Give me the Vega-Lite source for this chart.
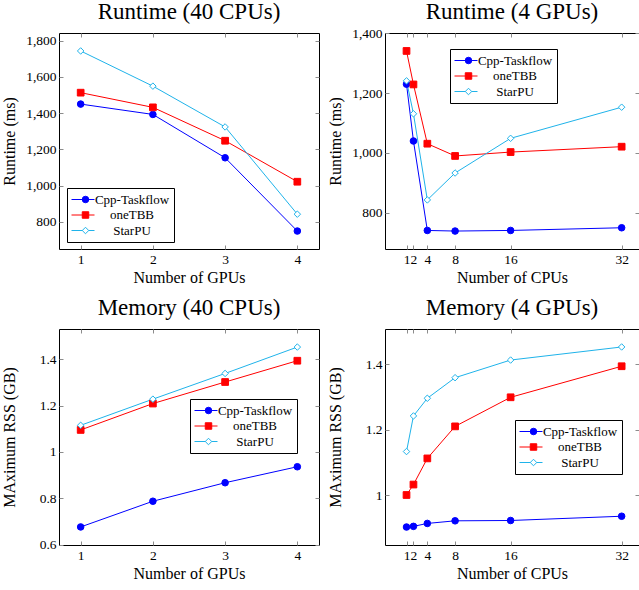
{
  "$schema": "https://vega.github.io/schema/vega-lite/v6.json",
  "padding": {"left": 0, "top": 0, "right": 0, "bottom": 0},
  "spacing": 10,
  "resolve": {"scale": {"color": "independent", "stroke": "independent", "fill": "independent", "shape": "independent", "size": "independent"}, "legend": {"color": "independent", "stroke": "independent", "fill": "independent", "shape": "independent", "size": "independent"}},
  "config": {
    "view": {"stroke": "black", "strokeWidth": 1},
    "font": "Liberation Serif",
    "axis": {"domain": false, "grid": false, "tickSize": -4, "tickColor": "#8c8c8c", "tickWidth": 1, "labelFont": "Liberation Serif", "labelFontSize": 13.5, "labelColor": "black", "labelPadding": 7, "labelOverlap": false, "labelBound": false, "labelFlush": false, "titleFont": "Liberation Serif", "titleFontSize": 16, "titleFontWeight": "normal", "titleColor": "black", "titlePadding": 4, "minExtent": 0},
    "title": {"font": "Liberation Serif", "fontSize": 23, "fontWeight": "normal", "color": "black", "anchor": "middle", "frame": "group", "offset": 9},
    "legend": {"labelFont": "Liberation Serif", "labelFontSize": 13, "labelFontWeight": "normal", "labelColor": "black", "padding": 4, "strokeColor": "black", "fillColor": "transparent", "symbolStrokeWidth": 1, "labelAlign": "center", "rowPadding": 0.5, "cornerRadius": 0, "labelLimit": 0, "clipHeight": 15}
  },
  "datasets": {
    "rt40": [
      {"x": 1, "y": 1450, "series": "Cpp-Taskflow"}, {"x": 2, "y": 1393, "series": "Cpp-Taskflow"}, {"x": 3, "y": 1154, "series": "Cpp-Taskflow"}, {"x": 4, "y": 750, "series": "Cpp-Taskflow"},
      {"x": 1, "y": 1513, "series": "oneTBB"}, {"x": 2, "y": 1432, "series": "oneTBB"}, {"x": 3, "y": 1248, "series": "oneTBB"}, {"x": 4, "y": 1022, "series": "oneTBB"},
      {"x": 1, "y": 1743, "series": "StarPU"}, {"x": 2, "y": 1549, "series": "StarPU"}, {"x": 3, "y": 1324, "series": "StarPU"}, {"x": 4, "y": 843, "series": "StarPU"}
    ],
    "rt4": [
      {"x": 1, "y": 1230, "series": "Cpp-Taskflow"}, {"x": 2, "y": 1040, "series": "Cpp-Taskflow"}, {"x": 4, "y": 741, "series": "Cpp-Taskflow"}, {"x": 8, "y": 739, "series": "Cpp-Taskflow"}, {"x": 16, "y": 741, "series": "Cpp-Taskflow"}, {"x": 32, "y": 750, "series": "Cpp-Taskflow"},
      {"x": 1, "y": 1341, "series": "oneTBB"}, {"x": 2, "y": 1229, "series": "oneTBB"}, {"x": 4, "y": 1031, "series": "oneTBB"}, {"x": 8, "y": 990, "series": "oneTBB"}, {"x": 16, "y": 1003, "series": "oneTBB"}, {"x": 32, "y": 1021, "series": "oneTBB"},
      {"x": 1, "y": 1241, "series": "StarPU"}, {"x": 2, "y": 1131, "series": "StarPU"}, {"x": 4, "y": 843, "series": "StarPU"}, {"x": 8, "y": 933, "series": "StarPU"}, {"x": 16, "y": 1049, "series": "StarPU"}, {"x": 32, "y": 1153, "series": "StarPU"}
    ],
    "mem40": [
      {"x": 1, "y": 0.676, "series": "Cpp-Taskflow"}, {"x": 2, "y": 0.787, "series": "Cpp-Taskflow"}, {"x": 3, "y": 0.867, "series": "Cpp-Taskflow"}, {"x": 4, "y": 0.936, "series": "Cpp-Taskflow"},
      {"x": 1, "y": 1.095, "series": "oneTBB"}, {"x": 2, "y": 1.209, "series": "oneTBB"}, {"x": 3, "y": 1.302, "series": "oneTBB"}, {"x": 4, "y": 1.394, "series": "oneTBB"},
      {"x": 1, "y": 1.115, "series": "StarPU"}, {"x": 2, "y": 1.228, "series": "StarPU"}, {"x": 3, "y": 1.339, "series": "StarPU"}, {"x": 4, "y": 1.453, "series": "StarPU"}
    ],
    "mem4": [
      {"x": 1, "y": 0.902, "series": "Cpp-Taskflow"}, {"x": 2, "y": 0.904, "series": "Cpp-Taskflow"}, {"x": 4, "y": 0.913, "series": "Cpp-Taskflow"}, {"x": 8, "y": 0.921, "series": "Cpp-Taskflow"}, {"x": 16, "y": 0.922, "series": "Cpp-Taskflow"}, {"x": 32, "y": 0.935, "series": "Cpp-Taskflow"},
      {"x": 1, "y": 1.0, "series": "oneTBB"}, {"x": 2, "y": 1.032, "series": "oneTBB"}, {"x": 4, "y": 1.112, "series": "oneTBB"}, {"x": 8, "y": 1.21, "series": "oneTBB"}, {"x": 16, "y": 1.299, "series": "oneTBB"}, {"x": 32, "y": 1.394, "series": "oneTBB"},
      {"x": 1, "y": 1.133, "series": "StarPU"}, {"x": 2, "y": 1.242, "series": "StarPU"}, {"x": 4, "y": 1.296, "series": "StarPU"}, {"x": 8, "y": 1.359, "series": "StarPU"}, {"x": 16, "y": 1.413, "series": "StarPU"}, {"x": 32, "y": 1.453, "series": "StarPU"}
    ]
  },
  "vconcat": [
    {
      "spacing": 6,
      "resolve": {"scale": {"color": "independent", "stroke": "independent", "fill": "independent", "shape": "independent", "size": "independent"}, "legend": {"color": "independent", "stroke": "independent", "fill": "independent", "shape": "independent", "size": "independent"}},
      "hconcat": [
        {
          "width": 260, "height": 216,
          "title": "Runtime (40 CPUs)",
          "data": {"name": "rt40"},
          "layer": [
            {"mark": {"type": "line", "strokeWidth": 1},
             "encoding": {
               "x": {"field": "x", "type": "quantitative", "scale": {"domain": [0.7, 4.3], "nice": false, "zero": false}, "axis": {"values": [1, 2, 3, 4], "title": "Number of GPUs", "orient": "bottom"}},
               "y": {"field": "y", "type": "quantitative", "scale": {"domain": [651, 1842], "nice": false, "zero": false}, "axis": {"values": [800, 1000, 1200, 1400, 1600, 1800], "format": ",d", "title": "Runtime (ms)", "orient": "left", "minExtent": 36, "maxExtent": 36, "titlePadding": 6}},
               "color": {"field": "series", "type": "nominal", "scale": {"domain": ["Cpp-Taskflow", "oneTBB", "StarPU", "zz"], "range": ["#0000ff", "#ff0000", "#1fb3ea", "#000000"]},
                 "legend": {"orient": "none", "legendX": 8, "legendY": 155, "title": null, "values": ["Cpp-Taskflow", "oneTBB", "StarPU"], "symbolType": "stroke", "symbolSize": 529, "symbolOffset": 0, "labelOffset": 37}}
             }},
            {"mark": {"type": "point", "opacity": 1, "strokeWidth": 1},
             "encoding": {
               "x": {"field": "x", "type": "quantitative", "axis": {"values": [1, 2, 3, 4], "title": null, "labels": false, "orient": "top"}},
               "y": {"field": "y", "type": "quantitative", "axis": {"values": [800, 1000, 1200, 1400, 1600, 1800], "title": null, "labels": false, "orient": "right"}},
               "shape": {"field": "series", "type": "nominal", "scale": {"domain": ["Cpp-Taskflow", "oneTBB", "StarPU"], "range": ["circle", "square", "diamond"]}},
               "size": {"field": "series", "type": "nominal", "scale": {"domain": ["oneTBB", "Cpp-Taskflow", "StarPU"], "range": [45, 42, 28]}, "legend": null},
               "stroke": {"field": "series", "type": "nominal", "scale": {"domain": ["Cpp-Taskflow", "oneTBB", "StarPU"], "range": ["#0000ff", "#ff0000", "#1fb3ea"]}},
               "fill": {"field": "series", "type": "nominal", "scale": {"domain": ["Cpp-Taskflow", "oneTBB", "StarPU"], "range": ["#0000ff", "#ff0000", "#ffffff"]},
                 "legend": {"orient": "none", "legendX": 8, "legendY": 155, "title": null, "symbolSize": 42, "symbolOffset": 8, "labelOpacity": 0, "labelColor": "transparent", "strokeColor": "transparent", "fillColor": "transparent"}}
             }}
          ],
          "resolve": {"axis": {"x": "independent", "y": "independent"}}
        },
        {
          "width": 254, "height": 216,
          "title": {"text": "Runtime (4 GPUs)", "offset": 2.5},
          "data": {"name": "rt4"},
          "layer": [
            {"mark": {"type": "line", "strokeWidth": 1},
             "encoding": {
               "x": {"field": "x", "type": "quantitative", "scale": {"domain": [-2.1, 34.5], "nice": false, "zero": false}, "axis": {"values": [1, 2, 4, 8, 16, 32], "title": "Number of CPUs", "orient": "bottom"}},
               "y": {"field": "y", "type": "quantitative", "scale": {"domain": [679, 1401], "nice": false, "zero": false}, "axis": {"values": [800, 1000, 1200, 1400], "format": ",d", "title": "Runtime (ms)", "orient": "left", "minExtent": 36, "maxExtent": 36, "titlePadding": 6}},
               "color": {"field": "series", "type": "nominal", "scale": {"domain": ["Cpp-Taskflow", "oneTBB", "StarPU", "zz"], "range": ["#0000ff", "#ff0000", "#1fb3ea", "#000000"]},
                 "legend": {"orient": "none", "legendX": 65, "legendY": 16, "title": null, "values": ["Cpp-Taskflow", "oneTBB", "StarPU"], "symbolType": "stroke", "symbolSize": 529, "symbolOffset": 0, "labelOffset": 37}}
             }},
            {"mark": {"type": "point", "opacity": 1, "strokeWidth": 1},
             "encoding": {
               "x": {"field": "x", "type": "quantitative", "axis": {"values": [1, 2, 4, 8, 16, 32], "title": null, "labels": false, "orient": "top"}},
               "y": {"field": "y", "type": "quantitative", "axis": {"values": [800, 1000, 1200, 1400], "title": null, "labels": false, "orient": "right"}},
               "shape": {"field": "series", "type": "nominal", "scale": {"domain": ["Cpp-Taskflow", "oneTBB", "StarPU"], "range": ["circle", "square", "diamond"]}},
               "size": {"field": "series", "type": "nominal", "scale": {"domain": ["oneTBB", "Cpp-Taskflow", "StarPU"], "range": [45, 42, 28]}, "legend": null},
               "stroke": {"field": "series", "type": "nominal", "scale": {"domain": ["Cpp-Taskflow", "oneTBB", "StarPU"], "range": ["#0000ff", "#ff0000", "#1fb3ea"]}},
               "fill": {"field": "series", "type": "nominal", "scale": {"domain": ["Cpp-Taskflow", "oneTBB", "StarPU"], "range": ["#0000ff", "#ff0000", "#ffffff"]},
                 "legend": {"orient": "none", "legendX": 65, "legendY": 16, "title": null, "symbolSize": 42, "symbolOffset": 8, "labelOpacity": 0, "labelColor": "transparent", "strokeColor": "transparent", "fillColor": "transparent"}}
             }}
          ],
          "resolve": {"axis": {"x": "independent", "y": "independent"}}
        }
      ]
    },
    {
      "spacing": 6,
      "resolve": {"scale": {"color": "independent", "stroke": "independent", "fill": "independent", "shape": "independent", "size": "independent"}, "legend": {"color": "independent", "stroke": "independent", "fill": "independent", "shape": "independent", "size": "independent"}},
      "hconcat": [
        {
          "width": 260, "height": 216,
          "title": "Memory (40 CPUs)",
          "data": {"name": "mem40"},
          "layer": [
            {"mark": {"type": "line", "strokeWidth": 1},
             "encoding": {
               "x": {"field": "x", "type": "quantitative", "scale": {"domain": [0.7, 4.3], "nice": false, "zero": false}, "axis": {"values": [1, 2, 3, 4], "title": "Number of GPUs", "orient": "bottom"}},
               "y": {"field": "y", "type": "quantitative", "scale": {"domain": [0.598, 1.531], "nice": false, "zero": false}, "axis": {"values": [0.6, 0.8, 1, 1.2, 1.4], "format": "~g", "title": "MAximum RSS (GB)", "orient": "left", "minExtent": 36, "maxExtent": 36, "titlePadding": 6}},
               "color": {"field": "series", "type": "nominal", "scale": {"domain": ["Cpp-Taskflow", "oneTBB", "StarPU", "zz"], "range": ["#0000ff", "#ff0000", "#1fb3ea", "#000000"]},
                 "legend": {"orient": "none", "legendX": 131, "legendY": 70, "title": null, "values": ["Cpp-Taskflow", "oneTBB", "StarPU"], "symbolType": "stroke", "symbolSize": 529, "symbolOffset": 0, "labelOffset": 37}}
             }},
            {"mark": {"type": "point", "opacity": 1, "strokeWidth": 1},
             "encoding": {
               "x": {"field": "x", "type": "quantitative", "axis": {"values": [1, 2, 3, 4], "title": null, "labels": false, "orient": "top"}},
               "y": {"field": "y", "type": "quantitative", "axis": {"values": [0.6, 0.8, 1, 1.2, 1.4], "title": null, "labels": false, "orient": "right"}},
               "shape": {"field": "series", "type": "nominal", "scale": {"domain": ["Cpp-Taskflow", "oneTBB", "StarPU"], "range": ["circle", "square", "diamond"]}},
               "size": {"field": "series", "type": "nominal", "scale": {"domain": ["oneTBB", "Cpp-Taskflow", "StarPU"], "range": [45, 42, 28]}, "legend": null},
               "stroke": {"field": "series", "type": "nominal", "scale": {"domain": ["Cpp-Taskflow", "oneTBB", "StarPU"], "range": ["#0000ff", "#ff0000", "#1fb3ea"]}},
               "fill": {"field": "series", "type": "nominal", "scale": {"domain": ["Cpp-Taskflow", "oneTBB", "StarPU"], "range": ["#0000ff", "#ff0000", "#ffffff"]},
                 "legend": {"orient": "none", "legendX": 131, "legendY": 70, "title": null, "symbolSize": 42, "symbolOffset": 8, "labelOpacity": 0, "labelColor": "transparent", "strokeColor": "transparent", "fillColor": "transparent"}}
             }}
          ],
          "resolve": {"axis": {"x": "independent", "y": "independent"}}
        },
        {
          "width": 254, "height": 216,
          "title": "Memory (4 GPUs)",
          "data": {"name": "mem4"},
          "layer": [
            {"mark": {"type": "line", "strokeWidth": 1},
             "encoding": {
               "x": {"field": "x", "type": "quantitative", "scale": {"domain": [-2.1, 34.5], "nice": false, "zero": false}, "axis": {"values": [1, 2, 4, 8, 16, 32], "title": "Number of CPUs", "orient": "bottom"}},
               "y": {"field": "y", "type": "quantitative", "scale": {"domain": [0.847, 1.508], "nice": false, "zero": false}, "axis": {"values": [1, 1.2, 1.4], "format": "~g", "title": "MAximum RSS (GB)", "orient": "left", "minExtent": 36, "maxExtent": 36, "titlePadding": 6}},
               "color": {"field": "series", "type": "nominal", "scale": {"domain": ["Cpp-Taskflow", "oneTBB", "StarPU", "zz"], "range": ["#0000ff", "#ff0000", "#1fb3ea", "#000000"]},
                 "legend": {"orient": "none", "legendX": 130, "legendY": 91, "title": null, "values": ["Cpp-Taskflow", "oneTBB", "StarPU"], "symbolType": "stroke", "symbolSize": 529, "symbolOffset": 0, "labelOffset": 37}}
             }},
            {"mark": {"type": "point", "opacity": 1, "strokeWidth": 1},
             "encoding": {
               "x": {"field": "x", "type": "quantitative", "axis": {"values": [1, 2, 4, 8, 16, 32], "title": null, "labels": false, "orient": "top"}},
               "y": {"field": "y", "type": "quantitative", "axis": {"values": [1, 1.2, 1.4], "title": null, "labels": false, "orient": "right"}},
               "shape": {"field": "series", "type": "nominal", "scale": {"domain": ["Cpp-Taskflow", "oneTBB", "StarPU"], "range": ["circle", "square", "diamond"]}},
               "size": {"field": "series", "type": "nominal", "scale": {"domain": ["oneTBB", "Cpp-Taskflow", "StarPU"], "range": [45, 42, 28]}, "legend": null},
               "stroke": {"field": "series", "type": "nominal", "scale": {"domain": ["Cpp-Taskflow", "oneTBB", "StarPU"], "range": ["#0000ff", "#ff0000", "#1fb3ea"]}},
               "fill": {"field": "series", "type": "nominal", "scale": {"domain": ["Cpp-Taskflow", "oneTBB", "StarPU"], "range": ["#0000ff", "#ff0000", "#ffffff"]},
                 "legend": {"orient": "none", "legendX": 130, "legendY": 91, "title": null, "symbolSize": 42, "symbolOffset": 8, "labelOpacity": 0, "labelColor": "transparent", "strokeColor": "transparent", "fillColor": "transparent"}}
             }}
          ],
          "resolve": {"axis": {"x": "independent", "y": "independent"}}
        }
      ]
    }
  ]
}
